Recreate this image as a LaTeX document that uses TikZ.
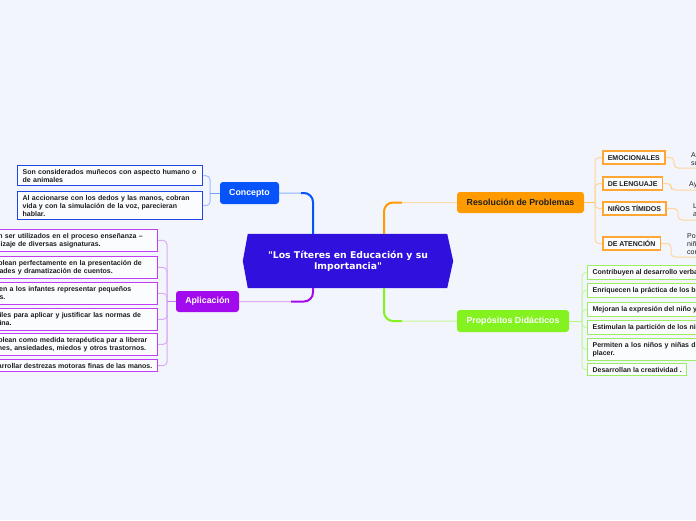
\documentclass[tikz,border=0pt]{standalone}
\usepackage{fontspec}
\setmainfont{Liberation Sans}
\newfontfamily\titlefont{DejaVu Sans}
\usetikzlibrary{calc,backgrounds}
\definecolor{bgc}{HTML}{F3F5FD}
\definecolor{txt}{HTML}{1E1E1E}
\definecolor{mainc}{HTML}{3010DC}
\definecolor{conc}{HTML}{0652FB}
\definecolor{concbd}{HTML}{2046E8}
\definecolor{concbr}{HTML}{A2BCFF}
\definecolor{apc}{HTML}{A30BEF}
\definecolor{apbd}{HTML}{C23CF5}
\definecolor{apbr}{HTML}{DBADF8}
\definecolor{orc}{HTML}{FF9A00}
\definecolor{orbd}{HTML}{FFA634}
\definecolor{orbr}{HTML}{FFD59C}
\definecolor{grc}{HTML}{83F21F}
\definecolor{grbd}{HTML}{9AEE60}
\definecolor{grbr}{HTML}{C8F4AA}
\tikzset{
  leaf/.style={draw, fill=white!70!bgc, line width=1.3pt, font=\bfseries\fontsize{7}{8}\selectfont,
    text=txt, inner xsep=5pt, inner ysep=3.5pt, align=left},
  wrap/.style={text width=175pt},
  rleaf/.style={leaf, draw=orbd, line width=1.5pt, inner ysep=4pt, text height=5pt, text depth=0pt},
  grand/.style={font=\fontsize{7}{8.3}\selectfont, text=txt, inner xsep=5pt, inner ysep=2pt,
    align=left, anchor=south west},
  topic/.style={rounded corners=3pt, font=\bfseries\fontsize{8.8}{10}\selectfont,
    inner sep=0pt, text=white},
  bracket/.style={line width=1pt, rounded corners=4pt},
  thinlink/.style={line width=1pt, rounded corners=9pt},
  thicklink/.style={line width=2pt, rounded corners=9pt},
}
\begin{document}
\begin{tikzpicture}[x=1pt,y=-1pt]
\useasboundingbox (0,0) rectangle (696,520);
\begin{scope}[on background layer]
  \fill[bgc] (0,0) rectangle (696,520);
\end{scope}
\clip (0,0) rectangle (696,520);

% central topic
\node[minimum width=210pt, minimum height=54pt, inner sep=0pt, align=center, text=white,
  font=\titlefont\bfseries\fontsize{9.3}{10.5}\selectfont] (main) at (348,261)
  {"Los Títeres en Educación y su\\Importancia"};
\begin{scope}[on background layer]
  \fill[mainc] (main.west) -- ($(main.north west)+(5,0)$) -- ($(main.north east)+(-6,0)$)
    -- (main.east) -- ($(main.south east)+(-6,0)$) -- ($(main.south west)+(5,0)$) -- cycle;
\end{scope}

% main topics
\node[topic, fill=conc, minimum width=59pt, minimum height=22pt] (concepto) at (249.5,193) {Concepto};
\node[topic, fill=apc, minimum width=63pt, minimum height=21pt] (aplic) at (207.5,301.5) {Aplicación};
\node[topic, fill=orc, text=txt, minimum width=127pt, minimum height=21pt] (resol) at (520.5,202.5) {Resolución de Problemas};
\node[topic, fill=grc, minimum width=112pt, minimum height=22pt] (prop) at (513,321) {Propósitos Didácticos};

% main connectors
\draw[thinlink, conc!45] (concepto.east) -| ($(main.north)+(-35,0)$);
\draw[thicklink, conc] ($(concepto.east)+(22,0)$) -| ($(main.north)+(-35,0)$);
\draw[thinlink, orc!35] (resol.west) -| ($(main.north)+(36,0)$);
\draw[thicklink, orc] ($(resol.west)+(-55,0)$) -| ($(main.north)+(36,0)$);
\draw[thinlink, apc!35] (aplic.east) -| ($(main.south)+(-35,0)$);
\draw[thicklink, apc] ($(aplic.east)+(52,0)$) -| ($(main.south)+(-35,0)$);
\draw[thinlink, grc!45] (prop.west) -| ($(main.south)+(36,0)$);
\draw[thicklink, grc] ($(prop.west)+(-55,0)$) -| ($(main.south)+(36,0)$);

% Concepto children
\node[leaf, wrap, draw=concbd, anchor=north west] (c1) at (17,165)
  {Son considerados muñecos con aspecto humano o\\de animales};
\node[leaf, wrap, draw=concbd, anchor=north west] (c2) at (17,191)
  {Al accionarse con los dedos y las manos, cobran\\vida y con la simulación de la voz, parecieran\\hablar.};
\coordinate (cb) at (210,193);
\draw[bracket, concbr] (c1.east) -| (cb) |- (c2.east);
\draw[bracket, conc!55] (concepto.west) -- (cb);

% Aplicacion children
\node[leaf, wrap, draw=apbd, anchor=north east] (a1) at (158,229)
  {Pueden ser utilizados en el proceso enseñanza –\\aprendizaje de diversas asignaturas.};
\node[leaf, wrap, draw=apbd, anchor=north east] (a2) at (158,256)
  {Se emplean perfectamente en la presentación de\\actividades y dramatización de cuentos.};
\node[leaf, wrap, draw=apbd, anchor=north east] (a3) at (158,282)
  {Permiten a los infantes representar pequeños\\papeles.};
\node[leaf, wrap, draw=apbd, anchor=north east] (a4) at (158,308)
  {Son útiles para aplicar y justificar las normas de\\disciplina.};
\node[leaf, wrap, draw=apbd, anchor=north east] (a5) at (158,333)
  {Se emplean como medida terapéutica par a liberar\\tensiones, ansiedades, miedos y otros trastornos.};
\node[leaf, draw=apbd, anchor=north east] (a6) at (158,359)
  {Desarrollar destrezas motoras finas de las manos.};
\coordinate (ab) at (167,301.5);
\foreach \n in {a1,a2,a3,a4,a5,a6} \draw[bracket, apbr] (ab) |- (\n.east);
\draw[bracket, apc!55] (aplic.west) -- (ab);

% Resolucion children
\node[rleaf, anchor=west] (r1) at (602,157.5) {EMOCIONALES};
\node[rleaf, anchor=west] (r2) at (602,183.5) {DE LENGUAJE};
\node[rleaf, anchor=west] (r3) at (602,208.5) {NIÑOS TÍMIDOS};
\node[rleaf, anchor=west] (r4) at (602,243.5) {DE ATENCIÓN};
\coordinate (rb) at (595,202.5);
\foreach \n in {r1,r2,r3,r4} \draw[bracket, orbr] (rb) |- (\n.west);
\draw[bracket, orc!60] (resol.east) -- (rb);

% Resolucion grandchildren
\node[grand] (g1) at (686,168) {Ayudan a exteriorizar\\sus sentimientos.};
\node[grand] (g2) at (684,190) {Ayudan a mejorar el lenguaje.};
\node[grand] (g3) at (688,220) {Les ayuda a vencer la timidez\\al expresarse.};
\node[grand] (g4) at (682,257) {Por medio de los títeres los\\niños mantienen la atención\\con facilidad.};
\draw[bracket, orbr] (r1.east) -| ($(g1.south west)+(-12,0)$) -- (g1.south east);
\draw[bracket, orbr] (r2.east) -| ($(g2.south west)+(-13,0)$) -- (g2.south east);
\draw[bracket, orbr] (r3.east) -| ($(g3.south west)+(-10,0)$) -- (g3.south east);
\draw[bracket, orbr] (r4.east) -| ($(g4.south west)+(-11,0)$) -- (g4.south east);

% Propositos children
\node[leaf, draw=grbd, anchor=north west] (p1) at (587,265) {Contribuyen al desarrollo verbal del niño.};
\node[leaf, draw=grbd, anchor=north west] (p2) at (587,283) {Enriquecen la práctica de los buenos hábitos.};
\node[leaf, draw=grbd, anchor=north west] (p3) at (587,302) {Mejoran la expresión del niño y su lenguaje.};
\node[leaf, draw=grbd, anchor=north west] (p4) at (587,320) {Estimulan la partición de los niños.};
\node[leaf, wrap, draw=grbd, anchor=north west] (p5) at (587,338) {Permiten a los niños y niñas divertirse con\\placer.};
\node[leaf, draw=grbd, anchor=north west] (p6) at (587,363) {Desarrollan la creatividad .};
\coordinate (pb) at (582,321);
\foreach \n in {p1,p2,p3,p4,p5,p6} \draw[bracket, grbr] (pb) |- (\n.west);
\draw[bracket, grc!60] (prop.east) -- (pb);
\end{tikzpicture}
\end{document}
